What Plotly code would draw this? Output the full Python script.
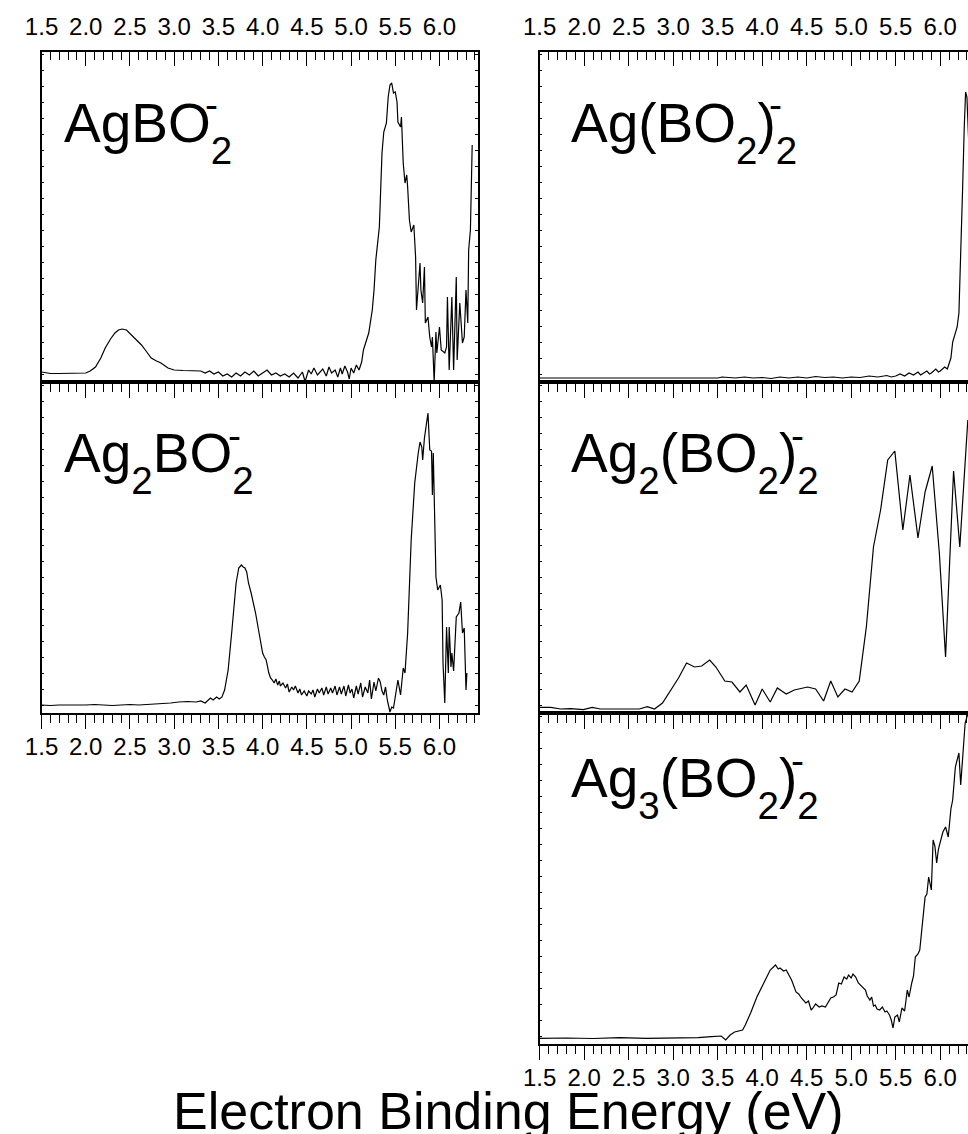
import plotly.graph_objects as go

W, H = 968, 1134

# ---- data: (electron binding energy in eV, photoelectron intensity in arb. units) ----
agbo2 = [(1.5,10),(1.6,8.5),(1.7,8.5),(1.8,8.5),(1.9,8.5),(2.0,9),(2.05,11),(2.11,15),(2.17,24),(2.22,34),
         (2.28,43),(2.33,49),(2.37,52),(2.41,53),(2.46,52),(2.52,47),(2.58,42),(2.63,37),(2.69,30),(2.74,24),
         (2.8,21),(2.85,19),(2.93,14),(3.0,12),(3.1,11.5),(3.2,11),(3.3,11),(3.35,9),(3.4,11),(3.45,8),
         (3.5,10),(3.55,6),(3.6,8),(3.65,5),(3.7,9),(3.75,6),(3.8,10),(3.85,7),(3.9,11),(3.95,6),
         (4.0,9),(4.05,12),(4.1,7),(4.15,9),(4.2,6),(4.25,8),(4.3,5),(4.35,9),(4.4,4),(4.45,10),
         (4.48,0.5),(4.52,12),(4.55,8),(4.58,14),(4.62,7),(4.65,10),(4.68,13),(4.72,6),(4.75,15),(4.78,9),
         (4.82,12),(4.85,5),(4.88,14),(4.9,8),(4.93,16),(4.96,10),(4.98,3),(5.0,14),(5.03,9),(5.06,17),
         (5.09,12),(5.12,20),(5.14,32),(5.2,49),(5.24,72),(5.26,92),(5.28,122),(5.32,155),(5.33,189),(5.35,229),
         (5.37,250),(5.4,259),(5.42,285),(5.44,297),(5.46,299),(5.48,289),(5.5,290),(5.52,280),(5.53,260),(5.56,255),
         (5.57,265),(5.59,219),(5.61,199),(5.63,207),(5.64,195),(5.66,162),(5.68,150),(5.71,157),(5.73,125),(5.74,72),
         (5.78,119),(5.79,92),(5.81,79),(5.83,115),(5.84,59),(5.87,65),(5.89,45),(5.91,35),(5.92,45),(5.94,0),
         (5.96,50),(5.97,29),(6.0,55),(6.02,32),(6.06,29),(6.08,35),(6.09,85),(6.11,12),(6.14,85),(6.16,12),
         (6.19,105),(6.2,22),(6.23,79),(6.26,39),(6.28,45),(6.3,92),(6.32,59),(6.33,132),(6.35,152),(6.37,237)]

ag2bo2 = [(1.5,8),(1.6,7.5),(1.7,8),(1.8,8),(1.9,7.5),(2.0,8),(2.1,8.5),(2.2,8),(2.3,7.5),(2.4,8),
          (2.5,8.5),(2.6,8),(2.7,8.5),(2.8,9),(2.9,9),(2.96,10),(3.05,11),(3.15,11.5),(3.25,11),(3.3,12),
          (3.35,10),(3.41,15),(3.44,13),(3.48,16),(3.51,14),(3.54,16),(3.57,23),(3.61,43),(3.65,80),(3.68,106),
          (3.7,130),(3.73,145),(3.76,148),(3.78,146),(3.8,145),(3.82,141),(3.84,130),(3.87,120),(3.89,113),(3.92,100),
          (3.95,85),(3.97,73),(4.0,60),(4.02,56),(4.04,53),(4.07,40),(4.09,35),(4.11,33),(4.13,30),(4.15,34),
          (4.17,28),(4.19,32),(4.2,27),(4.23,30),(4.26,25),(4.28,29),(4.3,21),(4.33,26),(4.35,23),(4.37,27),
          (4.4,20),(4.42,24),(4.44,18),(4.47,22),(4.5,17),(4.52,22),(4.55,19),(4.57,23),(4.59,16),(4.62,24),
          (4.64,20),(4.67,25),(4.69,18),(4.72,26),(4.74,19),(4.77,25),(4.79,20),(4.82,27),(4.84,18),(4.87,26),
          (4.89,19),(4.92,27),(4.94,17),(4.97,28),(4.99,20),(5.01,24),(5.03,15),(5.06,27),(5.08,19),(5.11,30),
          (5.13,16),(5.16,26),(5.19,20),(5.21,33),(5.23,14),(5.26,31),(5.28,22),(5.31,35),(5.33,31),(5.35,22),
          (5.37,18),(5.39,26),(5.41,13),(5.44,1),(5.46,6),(5.48,5),(5.5,15),(5.52,25),(5.53,33),(5.56,18),
          (5.59,45),(5.61,40),(5.64,80),(5.68,173),(5.72,230),(5.76,260),(5.78,271),(5.8,266),(5.81,253),(5.83,275),
          (5.85,290),(5.87,300),(5.89,263),(5.91,262),(5.92,218),(5.93,260),(5.96,136),(5.98,123),(6.01,128),(6.03,113),
          (6.04,50),(6.06,10),(6.08,86),(6.1,40),(6.11,86),(6.13,46),(6.14,60),(6.16,42),(6.19,96),(6.22,100),
          (6.24,111),(6.26,80),(6.28,85),(6.3,23),(6.31,40)]

ag_bo2_2 = [(1.5,4),(2.0,4),(2.5,4),(3.0,4),(3.5,4),(3.55,5),(3.6,4.5),(3.7,4),(3.8,5),(3.9,4),
            (4.0,4.5),(4.1,3.5),(4.2,5),(4.3,4),(4.4,5),(4.5,4),(4.6,5.5),(4.7,4.5),(4.8,5),(4.9,4),
            (5.0,5),(5.1,4.5),(5.2,6),(5.3,5),(5.4,6.5),(5.45,5),(5.5,6),(5.55,8),(5.6,6),(5.65,9),
            (5.7,7),(5.75,10),(5.78,7),(5.8,8),(5.85,11),(5.88,8),(5.9,9),(5.95,13),(5.98,10),(6.0,11),
            (6.05,15),(6.08,13),(6.11,20),(6.12,24),(6.14,40),(6.17,50),(6.19,55),(6.21,69),(6.23,122),(6.25,189),
            (6.27,255),(6.285,290),(6.3,285),(6.32,240)]

ag2_bo2_2 = [(1.5,5.7),(1.625,5.7),(1.735,4),(1.85,4.3),(1.99,3.3),(2.09,5.7),(2.18,4),(2.25,4),(2.36,3.3),(2.47,3.7),
             (2.62,4),(2.71,6.3),(2.79,4),(2.88,10),(2.97,23),(3.06,35),(3.15,50),(3.24,46),(3.32,47),(3.41,53),
             (3.48,46),(3.58,32),(3.66,31),(3.75,21),(3.82,28),(3.92,8),(4.0,24),(4.09,11),(4.17,25),(4.27,19),
             (4.36,23),(4.44,25),(4.51,26),(4.6,24),(4.69,12),(4.77,32),(4.85,16),(4.93,24),(5.01,21),(5.09,32),
             (5.17,86),(5.25,166),(5.33,203),(5.41,253),(5.49,262),(5.58,183),(5.66,238),(5.75,175),(5.83,221),(5.91,247),
             (5.99,160),(6.06,56),(6.15,242),(6.22,166),(6.31,293)]

ag3_bo2_2 = [(1.5,5.7),(1.8,6),(2.1,5.5),(2.4,6.3),(2.7,5.7),(3.02,5.7),(3.15,6),(3.28,6.3),(3.43,7.3),(3.54,8),
             (3.59,4),(3.64,9),(3.69,12),(3.74,13),(3.78,14),(3.81,19),(3.87,31),(3.94,47),(4.02,61),(4.09,74),
             (4.15,79),(4.18,75),(4.2,76),(4.24,73),(4.27,74),(4.33,64),(4.38,52),(4.41,50),(4.44,46),(4.49,41),
             (4.52,43),(4.55,34),(4.57,36),(4.6,40),(4.64,37),(4.67,38),(4.71,37),(4.74,42),(4.77,46),(4.8,47),
             (4.83,49),(4.86,61),(4.89,60),(4.92,67),(4.95,65),(4.97,69),(5.0,66),(5.02,70),(5.05,67),(5.08,61),
             (5.1,59),(5.13,57),(5.16,54),(5.18,48),(5.21,44),(5.23,47),(5.25,38),(5.27,39),(5.29,35),(5.32,34),
             (5.35,37),(5.38,32),(5.4,33),(5.43,29),(5.45,24),(5.47,16),(5.49,27),(5.52,29),(5.54,22),(5.57,36),
             (5.6,33),(5.63,54),(5.65,47),(5.68,61),(5.7,68),(5.72,87),(5.75,90),(5.77,94),(5.79,111),(5.81,125),
             (5.83,147),(5.85,150),(5.87,167),(5.9,154),(5.92,204),(5.94,198),(5.96,181),(5.98,195),(6.0,201),(6.03,212),
             (6.06,217),(6.09,207),(6.12,235),(6.14,244),(6.17,277),(6.19,283),(6.21,291),(6.23,259),(6.26,297),(6.28,321),
             (6.31,330)]

SUB = "<sub><span style='baseline-shift:-10px'>{}</span></sub>"
species_labels = ["AgBO" + SUB.format("2"),
                  "Ag" + SUB.format("2") + "BO" + SUB.format("2"),
                  "Ag(BO" + SUB.format("2") + ")" + SUB.format("2"),
                  "Ag" + SUB.format("2") + "(BO" + SUB.format("2") + ")" + SUB.format("2"),
                  "Ag" + SUB.format("3") + "(BO" + SUB.format("2") + ")" + SUB.format("2")]
charge_label = "-"
x_axis_title = "Electron Binding Energy (eV)"

FONT = "Liberation Sans, Arial, sans-serif"

# ---- layout (pixel geometry) ----
cols = {"L": dict(x0=25, x1=469, xmax=6.433, lab_x=46),
        "R": dict(x0=532, x1=968, xmax=6.312, lab_x=562)}
panels = [
    dict(data=agbo2,     col="L", top=52,  bot=382,  bottom=False, top_labels=True,  minus_dx=152, dy=0),
    dict(data=ag2bo2,    col="L", top=382, bot=713,  bottom=True,  top_labels=False, minus_dx=175, dy=0),
    dict(data=ag_bo2_2,  col="R", top=52,  bot=382,  bottom=False, top_labels=True,  minus_dx=210, dy=0),
    dict(data=ag2_bo2_2, col="R", top=382, bot=713,  bottom=False, top_labels=False, minus_dx=232, dy=0),
    dict(data=ag3_bo2_2, col="R", top=713, bot=1044, bottom=True,  top_labels=False, minus_dx=232, dy=-6),
]

def fx(p):
    return p / W

def fy(p):
    return 1 - p / H

fig = go.Figure()
layout = dict(width=W, height=H, margin=dict(l=0, r=0, t=0, b=0),
              font=dict(family=FONT, size=24, color="black"),
              paper_bgcolor="white", plot_bgcolor="white", showlegend=False)
annotations = []
overlay_n = len(panels)
TICKFONT = dict(family=FONT, size=24, color="black")

for i, p in enumerate(panels):
    n = i + 1
    xid = "x" if n == 1 else f"x{n}"
    yid = "y" if n == 1 else f"y{n}"
    xkey = "xaxis" if n == 1 else f"xaxis{n}"
    ykey = "yaxis" if n == 1 else f"yaxis{n}"
    c = cols[p["col"]]
    xs = [d[0] for d in p["data"]]
    ys = [d[1] for d in p["data"]]
    fig.add_trace(go.Scatter(x=xs, y=ys, mode="lines", xaxis=xid, yaxis=yid,
                             line=dict(color="black", width=1.2), hoverinfo="skip"))
    height = p["bot"] - p["top"]
    xbase = dict(range=[1.5, c["xmax"]], tick0=1.5, dtick=0.5, showgrid=False, zeroline=False,
                 tickcolor="black", tickwidth=1.4, tickformat=".1f", tickfont=TICKFONT,
                 domain=[fx(c["x0"]), fx(c["x1"])], anchor=yid, fixedrange=True)
    layout[xkey] = dict(xbase, side="bottom", ticks="outside", ticklen=14,
                        showline=True, linecolor="black", linewidth=1.6, mirror=True,
                        showticklabels=p["bottom"], ticklabelstandoff=-3,
                        minor=dict(dtick=0.1, tick0=1.5, ticks="outside", ticklen=8,
                                   tickwidth=1.2, tickcolor="black", showgrid=False))
    layout[ykey] = dict(range=[0, height], domain=[fy(p["bot"]), fy(p["top"])], anchor=xid,
                        showline=True, linecolor="black", linewidth=1.6,
                        mirror="ticks" if p["col"] == "L" else False,
                        ticks="inside", ticklen=3, tickwidth=1, tickcolor="black",
                        tick0=8, dtick=16, showticklabels=False, showgrid=False,
                        zeroline=False, fixedrange=True)
    if p["top_labels"]:
        overlay_n += 1
        oxid = f"x{overlay_n}"
        layout[f"xaxis{overlay_n}"] = dict(xbase, side="top", overlaying=xid, ticks="inside", ticklen=14,
                                           showline=False, showticklabels=True, ticklabelstandoff=11,
                                           minor=dict(dtick=0.1, tick0=1.5, ticks="inside", ticklen=8,
                                                      tickwidth=1.2, tickcolor="black", showgrid=False))
        fig.add_trace(go.Scatter(x=[None], y=[None], xaxis=oxid, yaxis=yid, mode="lines",
                                 hoverinfo="skip"))
    # species label and its charge
    annotations.append(dict(text=species_labels[i], xref="paper", yref="paper",
                            x=fx(c["lab_x"]), y=fy(p["top"] + 80 + p["dy"]),
                            xanchor="left", yanchor="middle", showarrow=False,
                            font=dict(family=FONT, size=55, color="black")))
    annotations.append(dict(text=charge_label, xref="paper", yref="paper",
                            x=fx(c["lab_x"] + p["minus_dx"]), y=fy(p["top"] + 53 + p["dy"]),
                            xanchor="center", yanchor="middle", showarrow=False,
                            font=dict(family=FONT, size=39, color="black")))

annotations.append(dict(text=x_axis_title, xref="paper", yref="paper", x=fx(500), y=fy(1111),
                        xanchor="center", yanchor="middle", showarrow=False,
                        font=dict(family=FONT, size=52, color="black")))
layout["annotations"] = annotations
fig.update_layout(**layout)
fig.write_html("out.html")
